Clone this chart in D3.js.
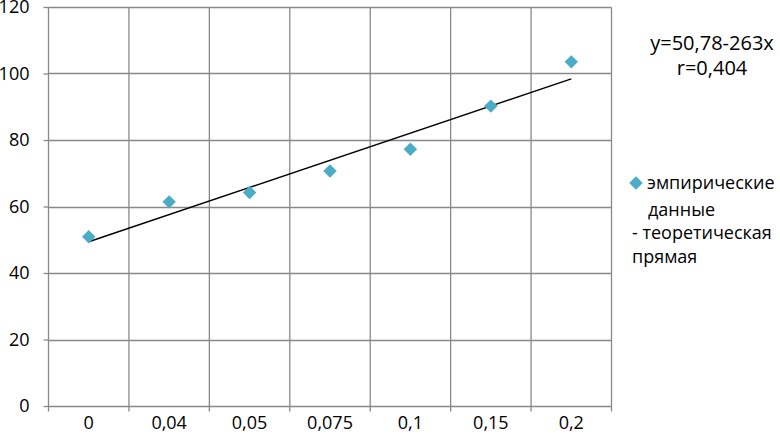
<!DOCTYPE html>
<html><head><meta charset="utf-8">
<script src="https://cdn.jsdelivr.net/npm/d3@7"></script>
<style>body{margin:0;background:#fff}svg{display:block}text{font-family:"Open Sans",Lato,sans-serif;fill:#000}</style>
</head><body>
<svg id="c" width="780" height="442"></svg>
<script>
const categories = ["0","0,04","0,05","0,075","0,1","0,15","0,2"];
const empirical = [50.9, 61.4, 64.2, 70.7, 77.2, 90.2, 103.5];
const trendEnds = [49.4, 98.4];
const yTicks = [0,20,40,60,80,100,120];
const equationLines = ["y=50,78-263x","r=0,404"];
const legendLabels = [["эмпирические","данные"],["- теоретическая","прямая"]];

const FS = "18px", FE = "20px", FL = "18px";
const svg = d3.select("#c");
const L=48.5, R=611.5, T=7, B=406;
const x = d3.scaleBand().domain(categories).range([L,R]).padding(0);
const y = d3.scaleLinear().domain([0,120]).range([B,T]);
const gridColor = "#898989";

const yAxis = d3.axisLeft(y).tickValues(yTicks).tickSize(5).tickPadding(14).tickFormat(d=>d);
const gy = svg.append("g").attr("transform",`translate(${L},0)`).call(yAxis);
gy.select(".domain").remove();
gy.selectAll("line").attr("stroke",gridColor).attr("stroke-width",1.3);
gy.selectAll("text").style("font-size",FS).attr("fill","#000");
svg.append("g").selectAll("line").data(yTicks).join("line")
  .attr("x1",L).attr("x2",R).attr("y1",d=>Math.round(y(d))+0.5).attr("y2",d=>Math.round(y(d))+0.5)
  .attr("stroke",gridColor).attr("stroke-width",1.3);
const bounds = categories.map(c=>x(c)).concat([x(categories[categories.length-1])+x.bandwidth()]);
svg.append("g").selectAll("line").data(bounds).join("line")
  .attr("x1",d=>d).attr("x2",d=>d).attr("y1",T+0.5).attr("y2",B+5.5)
  .attr("stroke",gridColor).attr("stroke-width",1.3);
const xAxis = d3.axisBottom(x).tickSize(0).tickPadding(10);
const gx = svg.append("g").attr("transform",`translate(0,${B})`).call(xAxis);
gx.select(".domain").remove();
gx.selectAll("text").style("font-size",FS).attr("fill","#000");

const cx = c => x(c)+x.bandwidth()/2;
svg.append("line")
  .attr("x1",cx(categories[0])).attr("y1",y(trendEnds[0]))
  .attr("x2",cx(categories[categories.length-1])).attr("y2",y(trendEnds[1]))
  .attr("stroke","#000").attr("stroke-width",1.4);

const diamond = d3.symbol().type(d3.symbolSquare).size(90);
svg.append("g").selectAll("path").data(empirical).join("path")
  .attr("d",diamond)
  .attr("transform",(d,i)=>`translate(${cx(categories[i])},${y(d)}) rotate(45)`)
  .attr("fill","#4bacc6");

svg.append("g").selectAll("text").data(equationLines).join("text")
  .attr("x",712).attr("y",(d,i)=>50+i*25).attr("text-anchor","middle")
  .style("font-size",FE).text(d=>d);

svg.append("path").attr("d",diamond).attr("transform","translate(636,183) rotate(45)").attr("fill","#4bacc6");
svg.append("text").attr("x",647).attr("y",189).style("font-size",FL).text(legendLabels[0][0]);
svg.append("text").attr("x",648).attr("y",216).style("font-size",FL).text(legendLabels[0][1]);
svg.append("text").attr("x",632).attr("y",239).style("font-size",FL).text(legendLabels[1][0]);
svg.append("text").attr("x",632).attr("y",263).style("font-size",FL).text(legendLabels[1][1]);
</script>
</body></html>
